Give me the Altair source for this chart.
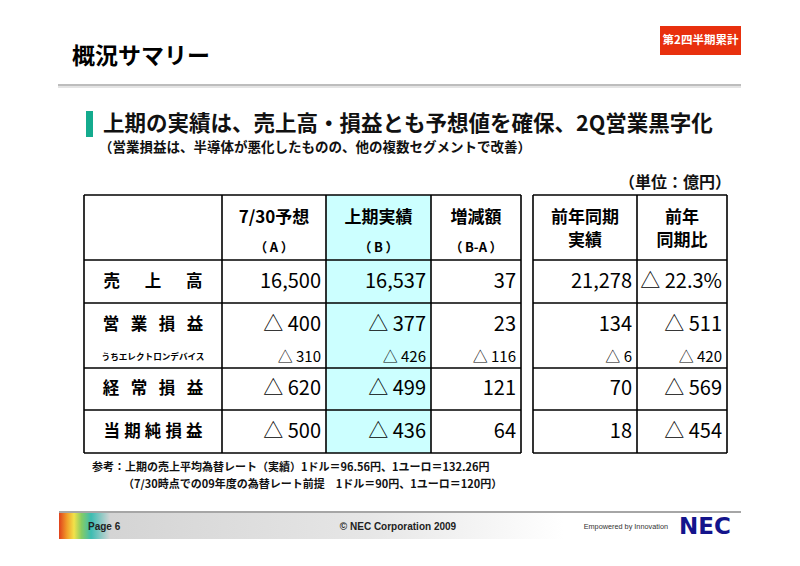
import altair as alt
import pandas as pd

# ---------------- data ----------------
page_title = "概況サマリー"
badge = "第2四半期累計"
headline = "上期の実績は、売上高・損益とも予想値を確保、2Q営業黒字化"
subline = "（営業損益は、半導体が悪化したものの、他の複数セグメントで改善）"
unit_label = "（単位：億円）"

row_labels = ["売上高", "営業損益", "経常損益", "当期純損益"]
sub_label = "うちエレクトロンデバイス"

head_line1 = ["7/30予想", "上期実績", "増減額", "前年同期", "前年"]
head_line2 = ["（A）", "（B）", "（B-A）", "実績", "同期比"]

forecast_A = [16500, -400, -620, -500]
actual_B = [16537, -377, -499, -436]
diff_BA = [37, 23, 121, 64]
prev_year = [21278, 134, 70, 18]
yoy = [-22.3, -511, -569, -454]
yoy_is_pct = [True, False, False, False]
# うちエレクトロンデバイス (A, B, B-A, prior year, yoy)
ed_values = [-310, -426, -116, -6, -420]

note1 = "参考：上期の売上平均為替レート（実績）1ドル＝96.56円、1ユーロ＝132.26円"
note2 = "（7/30時点での09年度の為替レート前提\u30001ドル＝90円、1ユーロ＝120円）"

footer_page = "Page 6"
footer_copy = "© NEC Corporation 2009"
footer_tag = "Empowered by Innovation"
footer_logo = "NEC"

# ---------------- layout (page pixels) ----------------
W, H, OFF = 784, 550, 8
JP = "Noto Sans CJK JP"
XS = alt.Scale(domain=[OFF, OFF + W], range=[0, W], nice=False, zero=False)
YS = alt.Scale(domain=[OFF, OFF + H], range=[0, H], nice=False, zero=False)

col_edges_1 = [84, 222, 326, 431, 521]
col_edges_2 = [533, 637, 727]
row_edges = [195, 260, 303, 368, 410, 453]
row_text_y = [282, 325, 389, 432]
sub_y = 357
label_cx = 153
label_gaps = ["\u3000\u2002", "\u2002\u2009", "\u2002\u2009", "\u2005"]
value_cols_right = [326, 431, 521, 637, 727]
header_cx = [274, 378.5, 476, 585, 682]


def X(f):
    return alt.X(f, type="quantitative", scale=XS, axis=None)


def Y(f):
    return alt.Y(f, type="quantitative", scale=YS, axis=None)


def text_layer(rows, size, align="left", weight="bold", color="#000000", font=JP):
    df = pd.DataFrame(rows, columns=["text", "x", "y"])
    return alt.Chart(df).mark_text(
        align=align, baseline="middle", font=font, fontSize=size,
        fontWeight=weight, color=color
    ).encode(x=X("x"), y=Y("y"), text="text:N")


def rect_layer(rows, color, **kw):
    df = pd.DataFrame(rows, columns=["x", "x2", "y", "y2"])
    return alt.Chart(df).mark_rect(color=color, **kw).encode(
        x=X("x"), x2=alt.X2("x2"), y=Y("y"), y2=alt.Y2("y2"))


def fmt(v, pct=False):
    s = f"{abs(v):,.1f}%" if pct else f"{abs(v):,}"
    return ("△ " + s) if v < 0 else s


def paren_pad(s):
    # add thin spaces inside full-width parentheses
    return s.replace("（", "（\u2009").replace("）", "\u2009）")


layers = []

# header area
layers.append(rect_layer([(660, 741, 26, 55)], "#e8300e"))
layers.append(text_layer([(badge, 700.5, 41)], 11.5, align="center", color="#ffffff"))
layers.append(text_layer([(page_title, 72, 57)], 23))
layers.append(rect_layer([(58, 741, 84, 86)], "#bdbdbd"))
layers.append(rect_layer([(58, 741, 86, 88)], "#e4e4e4"))

# headline
layers.append(rect_layer([(86, 93, 111, 137)], "#14ab8e"))
layers.append(text_layer([(headline, 103, 125)], 21.5, color="#111111"))
layers.append(text_layer([(subline, 99, 148)], 13.5, color="#111111"))
layers.append(text_layer([(unit_label, 731, 183)], 16, align="right", color="#111111"))

# table: highlighted column B
layers.append(rect_layer([(326, 431, 195, 453)], "#ccffff"))

# grid lines
grid = []
for y in row_edges:
    grid.append((col_edges_1[0], col_edges_1[-1], y, y))
    grid.append((col_edges_2[0], col_edges_2[-1], y, y))
for x in col_edges_1 + col_edges_2:
    grid.append((x, x, row_edges[0], row_edges[-1]))
grid_df = pd.DataFrame(grid, columns=["x", "x2", "y", "y2"])
layers.append(alt.Chart(grid_df).mark_rule(color="#000000", strokeWidth=1.6).encode(
    x=X("x"), x2=alt.X2("x2"), y=Y("y"), y2=alt.Y2("y2")))

# column headers
layers.append(text_layer([(head_line1[i], header_cx[i], 218) for i in range(5)], 17, align="center"))
layers.append(text_layer([(paren_pad(head_line2[i]), header_cx[i], 248) for i in range(3)], 13, align="center"))
layers.append(text_layer([(head_line2[i], header_cx[i], 241) for i in range(3, 5)], 17, align="center"))

# row labels
layers.append(text_layer(
    [(label_gaps[i].join(list(row_labels[i])), label_cx, row_text_y[i]) for i in range(4)],
    16.5, align="center"))
layers.append(text_layer([(sub_label, label_cx, sub_y)], 8.6, align="center"))

# values
cols = [forecast_A, actual_B, diff_BA, prev_year, yoy]
vals = []
for j, col in enumerate(cols):
    for i, v in enumerate(col):
        pct = (j == 4 and yoy_is_pct[i])
        vals.append((fmt(v, pct), value_cols_right[j] - 5, row_text_y[i]))
layers.append(text_layer(vals, 20, align="right", weight="normal"))
layers.append(text_layer(
    [(fmt(v), value_cols_right[j] - 5, sub_y) for j, v in enumerate(ed_values)],
    15, align="right", weight="normal"))

# notes
layers.append(text_layer([(note1, 92, 468)], 11, color="#111111"))
layers.append(text_layer([(note2, 123, 485)], 11, color="#111111"))

# footer band
footer_grad = alt.LinearGradient(
    gradient="linear", x1=0, x2=1, y1=0, y2=0,
    stops=[
        alt.GradientStop(offset=0.0, color="#e0401c"),
        alt.GradientStop(offset=0.012, color="#f2a02a"),
        alt.GradientStop(offset=0.022, color="#f2e24a"),
        alt.GradientStop(offset=0.033, color="#86cc64"),
        alt.GradientStop(offset=0.047, color="#3cbcb2"),
        alt.GradientStop(offset=0.075, color="#d4d4d4"),
        alt.GradientStop(offset=0.45, color="#e6e6e6"),
        alt.GradientStop(offset=0.74, color="#ffffff"),
        alt.GradientStop(offset=1.0, color="#ffffff"),
    ])
layers.append(rect_layer([(59, 741, 512, 539)], footer_grad))
layers.append(rect_layer([(59, 741, 511, 513)], "#a6a6a6"))
layers.append(text_layer([(footer_page, 88, 527)], 10, color="#222222", font="Liberation Sans"))
layers.append(text_layer([(footer_copy, 398, 527)], 10, align="center", color="#222222", font="Liberation Sans"))
layers.append(text_layer([(footer_tag, 668, 527)], 7.3, align="right", weight="normal",
                         color="#333333", font="Liberation Sans"))
layers.append(text_layer([(footer_logo, 679, 527)], 23, color="#14148c", font="DejaVu Sans"))

chart = alt.layer(*layers).properties(
    width=W, height=H, padding=0, autosize="none", background="white"
).configure_view(stroke=None)

chart.save("out.html", embed_options={"renderer": "svg", "actions": False})
